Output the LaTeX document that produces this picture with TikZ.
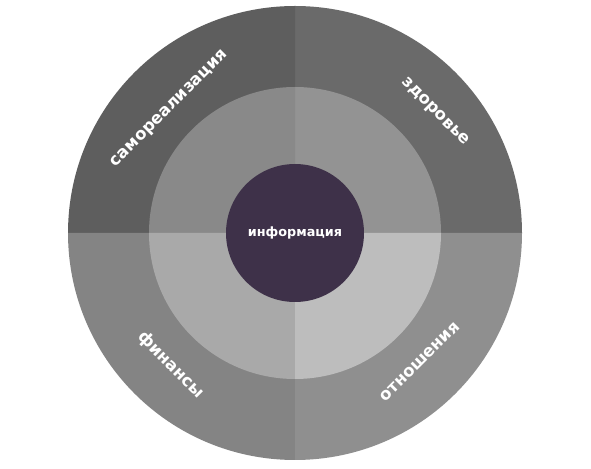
\documentclass[tikz,border=0pt]{standalone}
\usepackage{fontspec}
\setmainfont{DejaVu Sans}
\definecolor{otl}{HTML}{5E5E5E}
\definecolor{otr}{HTML}{6A6A6A}
\definecolor{obl}{HTML}{848484}
\definecolor{obr}{HTML}{8F8F8F}
\definecolor{mtl}{HTML}{898989}
\definecolor{mtr}{HTML}{939393}
\definecolor{mbl}{HTML}{A9A9A9}
\definecolor{mbr}{HTML}{BDBDBD}
\definecolor{core}{HTML}{3E3149}
\begin{document}
\begin{tikzpicture}[x=1pt,y=1pt,
  lbl/.style={text=white,font=\fontsize{16.5}{16.5}\selectfont\bfseries,inner sep=0pt}]
\useasboundingbox (0,0) rectangle (591,468);
\fill[white] (0,0) rectangle (591,468);
\coordinate (c) at (295,235);
% outer ring
\fill[otr] (c) -- ++(0:227) arc (0:90:227) -- cycle;
\fill[otl] (c) -- ++(90:227) arc (90:180:227) -- cycle;
\fill[obl] (c) -- ++(180:227) arc (180:270:227) -- cycle;
\fill[obr] (c) -- ++(270:227) arc (270:360:227) -- cycle;
% middle ring
\fill[mtr] (c) -- ++(0:146) arc (0:90:146) -- cycle;
\fill[mtl] (c) -- ++(90:146) arc (90:180:146) -- cycle;
\fill[mbl] (c) -- ++(180:146) arc (180:270:146) -- cycle;
\fill[mbr] (c) -- ++(270:146) arc (270:360:146) -- cycle;
% core
\fill[core] (c) circle (69);
\node[text=white,font=\fontsize{12.8}{12.8}\selectfont\bfseries,inner sep=0pt] (info) at (c) {информация};
\node[lbl,rotate=45] (s) at (170,359) {самореализация};
\node[lbl,rotate=-45] (z) at (435,356) {здоровье};
\node[lbl,rotate=-45] (f) at (171,103) {финансы};
\node[lbl,rotate=45] (o) at (420,106) {отношения};
\end{tikzpicture}
\end{document}
